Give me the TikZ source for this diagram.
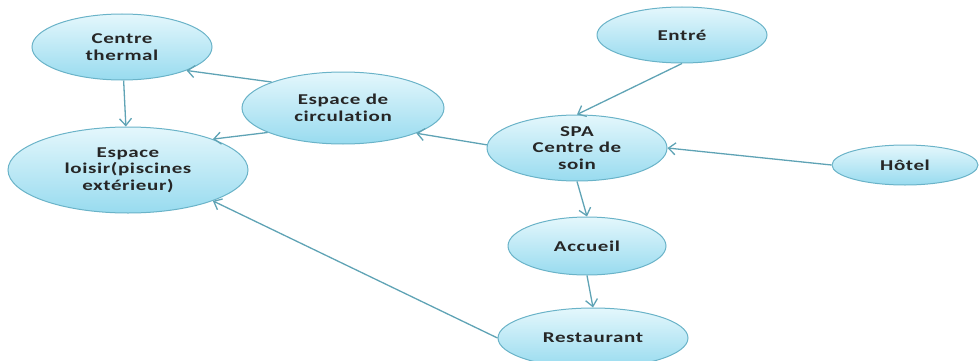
\documentclass[tikz,border=0pt]{standalone}
\usepackage{fontspec}
\setmainfont[FakeStretch=1.4,LetterSpace=4,Ligatures=NoCommon]{Carlito}
\usetikzlibrary{shapes.geometric,arrows.meta}
\definecolor{edgecol}{HTML}{5FA3B5}
\definecolor{bordercol}{HTML}{6AB3C8}
\definecolor{filltop}{HTML}{E4F7FC}
\definecolor{fillbot}{HTML}{98DBEF}
\tikzset{
  bubble/.style={ellipse, draw=bordercol, line width=1pt, top color=filltop, bottom color=fillbot,
    inner sep=0pt, align=center, font=\fontsize{15}{16.5}\selectfont\bfseries, text=black!85},
  link/.style={draw=edgecol, line width=1.3pt, -{Straight Barb[length=7pt,width=12pt]}}
}
\begin{document}
\begin{tikzpicture}[x=1pt,y=-1pt]
\useasboundingbox (0,0) rectangle (979,361);
\node[bubble, minimum width=180, minimum height=66] (ct) at (122,47) {Centre\\thermal};
\node[bubble, minimum width=202, minimum height=72] (ec) at (343,108) {Espace de\\circulation};
\node[bubble, minimum width=240, minimum height=86] (el) at (128,170) {Espace\\loisir(piscines\\extérieur)};
\node[bubble, minimum width=170, minimum height=56] (en) at (682,35) {Entré};
\node[bubble, minimum width=180, minimum height=66] (spa) at (577,148) {SPA\\Centre de\\soin};
\node[bubble, minimum width=146, minimum height=40] (ho) at (905,165) {Hôtel};
\node[bubble, minimum width=158, minimum height=58] (ac) at (587,246) {Accueil};
\node[bubble, minimum width=190, minimum height=60] (re) at (593,338) {Restaurant};
\draw[link] (ct) -- (el);
\draw[link] (ec.160) -- (ct.-20);
\draw[link] (ec.198) -- (el.20);
\draw[link] (spa.178) -- (ec.-19);
\draw[link] (en.south) -- (spa.north);
\draw[link] (ho.west) -- (spa.east);
\draw[link] (spa.south) -- (ac.north);
\draw[link] (ac.south) -- (re.north);
\draw[link] (re.west) -- (el.-20);
\end{tikzpicture}
\end{document}
